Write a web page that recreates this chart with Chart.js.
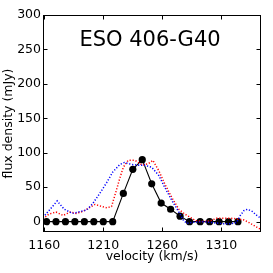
<!DOCTYPE html>
<html>
<head>
<meta charset="utf-8">
<script src="https://cdn.jsdelivr.net/npm/chart.js@4.4.0/dist/chart.umd.min.js"></script>
<style>
html,body{margin:0;padding:0;background:#fff;}
#wrap{width:273px;height:273px;}
</style>
</head>
<body>
<div id="wrap"><canvas id="c" width="273" height="273"></canvas></div>
<script>
// ---- data ----
const chartTitle = 'ESO 406-G40';
const xTicks = [1160, 1210, 1260, 1310];
const yTicks = [0, 50, 100, 150, 200, 250, 300];

const blackV = [1162, 1170, 1178, 1186, 1194, 1202, 1210, 1218, 1227, 1235, 1243, 1251, 1259, 1267, 1275, 1283, 1292, 1300, 1308, 1316, 1324];
const blackF = [0, 0, 0, 0, 0, 0, 0, 0, 41, 76, 90, 55, 27, 18, 8, 0, 0, 0, 0, 0, 0];

const redV = [1159, 1164, 1170, 1176, 1182, 1187, 1193, 1199, 1203, 1207, 1213, 1217, 1221, 1224, 1227, 1231, 1237, 1243, 1248, 1252, 1257, 1262, 1268, 1274, 1279, 1284, 1288, 1295, 1301, 1306, 1312, 1318, 1323, 1329, 1333, 1339, 1344];
const redF = [4, 11, 14, 9, 14, 12, 15, 21, 25, 23, 20, 22, 45, 63, 79, 89, 89, 82, 84, 89, 74, 55, 35, 18, 11, 6, 1.5, 0, 1.5, 5, 5, 5, 4, 2.5, -1, -7, -12];

const blueV = [1159, 1165, 1171, 1177, 1184, 1189, 1196, 1201, 1207, 1213, 1218, 1224, 1228, 1234, 1240, 1245, 1251, 1257, 1262, 1268, 1274, 1278, 1281, 1285, 1295, 1306, 1312, 1318, 1323, 1326, 1329, 1332, 1336, 1340, 1344];
const blueF = [6, 18, 30, 18, 12, 14, 17, 26, 41, 57, 72, 83, 86, 83, 82, 82, 79, 67, 50, 31, 14, 1.5, -2.5, -1, 0, -2, -3, -3, -1, 9, 16, 18, 15, 9, 4];

const pts = (xs, ys) => xs.map((v, i) => ({x: v, y: ys[i]}));
const FONT = 'DejaVu Sans';

const framePlugin = {
  id: 'frame',
  afterDraw(chart) {
    const {ctx, chartArea: a, scales: {x, y}} = chart;
    ctx.save();
    ctx.strokeStyle = '#000';
    ctx.lineWidth = 1;
    const L = Math.round(a.left) + 0.5, R = Math.round(a.right) - 0.5;
    const T = Math.round(a.top) + 0.5, B = Math.round(a.bottom) - 0.5;
    ctx.strokeRect(L, T, R - L, B - T);
    const tl = 4;
    ctx.beginPath();
    xTicks.forEach(v => {
      const px = Math.round(x.getPixelForValue(v)) + 0.5;
      ctx.moveTo(px, B); ctx.lineTo(px, B - tl);
      ctx.moveTo(px, T); ctx.lineTo(px, T + tl);
    });
    yTicks.forEach(v => {
      const py = Math.round(y.getPixelForValue(v)) + 0.5;
      ctx.moveTo(L, py); ctx.lineTo(L + tl, py);
      ctx.moveTo(R, py); ctx.lineTo(R - tl, py);
    });
    ctx.stroke();
    ctx.fillStyle = '#000';
    ctx.font = '21px "' + FONT + '"';
    ctx.textAlign = 'center';
    ctx.textBaseline = 'middle';
    ctx.fillText(chartTitle, 150, 41);
    ctx.restore();
  }
};

new Chart(document.getElementById('c'), {
  type: 'line',
  data: {
    datasets: [
      {data: pts(blueV, blueF), borderColor: '#0000ff', borderWidth: 1.5, borderDash: [1.2, 1.8], pointRadius: 0, fill: false, tension: 0},
      {data: pts(redV, redF), borderColor: '#ff0000', borderWidth: 1.5, borderDash: [1.2, 1.8], pointRadius: 0, fill: false, tension: 0},
      {data: pts(blackV, blackF), borderColor: '#000', borderWidth: 1.1, pointRadius: 3.6, pointBackgroundColor: '#000', pointBorderColor: '#000', pointBorderWidth: 0, fill: false, tension: 0}
    ]
  },
  options: {
    responsive: false,
    animation: false,
    devicePixelRatio: 1,
    layout: {padding: {top: 15, right: 12, left: 0, bottom: 0}},
    plugins: {legend: {display: false}, tooltip: {enabled: false}, title: {display: false}},
    scales: {
      x: {
        type: 'linear', min: 1159, max: 1343.5,
        grid: {display: false, drawTicks: false},
        border: {display: false},
        afterBuildTicks: s => { s.ticks = xTicks.map(v => ({value: v})); },
        afterFit: s => { s.height = 41; },
        ticks: {color: '#000', font: {family: FONT, size: 12.5}, padding: 6, autoSkip: false, maxRotation: 0, callback: v => String(v)},
        title: {display: true, text: 'velocity (km/s)', color: '#000', font: {family: FONT, size: 12.5}, padding: {top: 0, bottom: 9}}
      },
      y: {
        type: 'linear', min: -15, max: 300,
        grid: {display: false, drawTicks: false},
        border: {display: false},
        afterBuildTicks: s => { s.ticks = yTicks.map(v => ({value: v})); },
        afterFit: s => { s.width = 43; },
        ticks: {color: '#000', font: {family: FONT, size: 12.5}, padding: 2, autoSkip: false, callback: v => String(v)},
        title: {display: true, text: 'flux density (mJy)', color: '#000', font: {family: FONT, size: 12.5}, padding: {top: 1.5, bottom: 0}}
      }
    }
  },
  plugins: [framePlugin]
});
</script>
</body>
</html>
